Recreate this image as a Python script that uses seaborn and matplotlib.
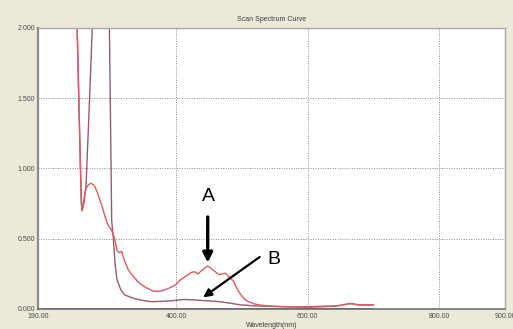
import matplotlib
matplotlib.use("Agg")
import matplotlib.pyplot as plt
import seaborn as sns
import pandas as pd

# Wavelength (nm) / absorbance readings for the two scans and the baseline
wl_a = [246, 249.5, 252, 254.5, 256, 257, 259, 263, 266, 270, 274, 277, 281, 284,
        288, 292, 296, 300, 303, 307, 310, 313, 317, 321, 327, 337, 345, 355, 365,
        373, 382, 390, 400, 406, 415, 423, 428, 433, 438, 443, 448, 453, 458, 465,
        470, 475, 480, 487, 492, 497, 504, 510, 520, 528, 545, 563, 600, 620, 640,
        655, 665, 675, 690, 700]
abs_a = [2.5, 2.0, 1.5, 1.0, 0.75, 0.70, 0.76, 0.86, 0.88, 0.895, 0.885, 0.866, 0.82,
         0.776, 0.72, 0.657, 0.60, 0.575, 0.55, 0.49, 0.42, 0.40, 0.41, 0.35, 0.28,
         0.22, 0.18, 0.15, 0.128, 0.125, 0.135, 0.15, 0.175, 0.206, 0.235, 0.26,
         0.265, 0.25, 0.27, 0.29, 0.306, 0.29, 0.27, 0.245, 0.25, 0.255, 0.23, 0.20,
         0.15, 0.11, 0.07, 0.052, 0.035, 0.028, 0.02, 0.016, 0.012, 0.015, 0.02,
         0.03, 0.04, 0.03, 0.028, 0.03]

wl_b = [246, 249.5, 252, 254.5, 256, 257, 260, 263, 268, 272.5, 280, 287, 294,
        298.5, 300, 302, 304.6, 307, 310, 316, 322, 335, 350, 362, 380, 396, 412,
        425, 441, 460, 477, 497, 520, 540, 570, 600, 625, 645, 660, 667, 680, 690,
        700]
abs_b = [2.5, 2.0, 1.5, 1.0, 0.75, 0.70, 0.76, 0.88, 1.45, 2.0, 2.6, 2.8, 2.6,
         2.0, 1.43, 0.63, 0.50, 0.33, 0.21, 0.135, 0.10, 0.076, 0.06, 0.052, 0.055,
         0.06, 0.068, 0.065, 0.06, 0.055, 0.045, 0.03, 0.022, 0.02, 0.016, 0.016,
         0.02, 0.022, 0.035, 0.038, 0.028, 0.03, 0.028]

wl_base = [198, 700]
abs_base = [0.0, 0.0]

x_ticks = [190, 400, 600, 800, 900]
x_tick_labels = ["190.00", "400.00", "600.00", "800.00", "900.00"]
y_ticks = [0.0, 0.5, 1.0, 1.5, 2.0]
y_tick_labels = ["0.000", "0.500", "1.000", "1.500", "2.000"]

sns.set_style("white")
plt.rcParams["font.family"] = ["Liberation Sans", "DejaVu Sans"]

fig = plt.figure(figsize=(5.13, 3.29), dpi=100, facecolor="#ECE9D8")
ax = fig.add_axes([0.0741, 0.0608, 0.9103, 0.8541])
ax.set_facecolor("white")

df_a = pd.DataFrame({"wl": wl_a, "abs": abs_a})
df_b = pd.DataFrame({"wl": wl_b, "abs": abs_b})
df_base = pd.DataFrame({"wl": wl_base, "abs": abs_base})

sns.lineplot(data=df_base, x="wl", y="abs", ax=ax, color="#6b3a40", lw=1.3,
             estimator=None, sort=False)
sns.lineplot(data=df_b, x="wl", y="abs", ax=ax, color="#9a5a6c", lw=1.0,
             estimator=None, sort=False)
sns.lineplot(data=df_a, x="wl", y="abs", ax=ax, color="#d95c63", lw=1.0,
             estimator=None, sort=False)

ax.set_xlim(190, 900)
ax.set_ylim(0, 2.0)
ax.set_xticks(x_ticks)
ax.set_xticklabels(x_tick_labels)
ax.set_yticks(y_ticks)
ax.set_yticklabels(y_tick_labels)
ax.tick_params(axis="both", length=0, labelsize=5, colors="#4a4a4a")
ax.tick_params(axis="x", pad=3)
ax.tick_params(axis="y", pad=2)

ax.grid(True, color="#8a8a8a", linestyle=(0, (1, 1.5)), linewidth=0.7)
ax.set_axisbelow(True)

for side, col, w in [("left", "#8a8a8a", 1.6), ("bottom", "#707070", 1.2),
                     ("top", "#a8a8a8", 1.0), ("right", "#a8a8a8", 1.0)]:
    ax.spines[side].set_visible(True)
    ax.spines[side].set_color(col)
    ax.spines[side].set_linewidth(w)

ax.set_title("Scan Spectrum Curve", fontsize=5, color="#3a3a3a", pad=5)
ax.set_xlabel("Wavelength(nm)", fontsize=5, color="#3a3a3a", labelpad=1)
ax.set_ylabel("")

# Peak markers
ax.text(449, 0.80, "A", fontsize=14, ha="center", va="center", color="black")
ax.annotate("", xy=(448, 0.33), xytext=(448, 0.655),
            arrowprops=dict(arrowstyle="-|>", lw=2.4, color="black",
                            mutation_scale=14, shrinkA=0, shrinkB=0))
ax.text(548, 0.355, "B", fontsize=14, ha="center", va="center", color="black")
ax.annotate("", xy=(441, 0.083), xytext=(527, 0.37),
            arrowprops=dict(arrowstyle="-|>", lw=1.6, color="black",
                            mutation_scale=12, shrinkA=0, shrinkB=0))

fig.savefig("out.png", dpi=100, facecolor=fig.get_facecolor())
